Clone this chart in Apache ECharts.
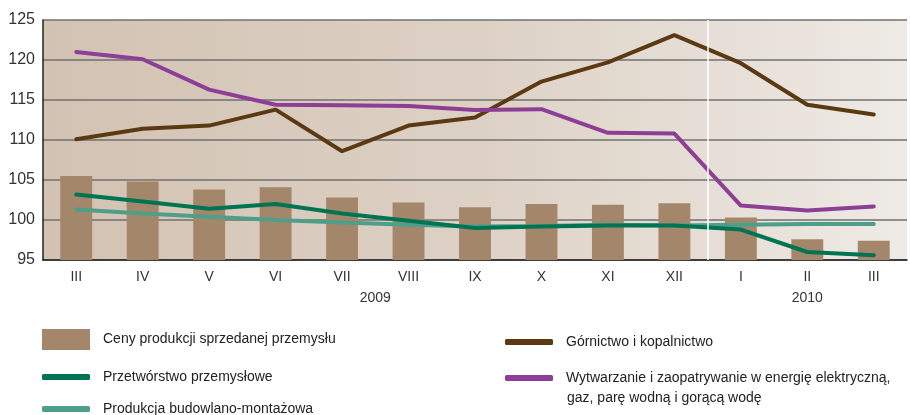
<!DOCTYPE html>
<html>
<head>
<meta charset="utf-8">
<script src="https://cdn.jsdelivr.net/npm/echarts@6/dist/echarts.min.js"></script>
<style>
  html, body { margin: 0; padding: 0; background: #fff; }
  #chart { width: 910px; height: 415px; }
</style>
</head>
<body>
<div id="chart"></div>
<script>
// miesiące (III 2009 – III 2010)
const months = ["III", "IV", "V", "VI", "VII", "VIII", "IX", "X", "XI", "XII", "I", "II", "III"];
// podpisy lat: pozycja na osi (indeks kategorii) i tekst
const yearPos = [4.5, 11];
const yearLabels = ["2009", "2010"];
// granica lat
const yearBreak = [9.5];

const names = [
  "Ceny produkcji sprzedanej przemysłu",
  "Przetwórstwo przemysłowe",
  "Produkcja budowlano-montażowa",
  "Górnictwo i kopalnictwo",
  "Wytwarzanie i zaopatrywanie w energię elektryczną,"
];
const nameLine2 = "gaz, parę wodną i gorącą wodę";

const ceny = [105.5, 104.8, 103.8, 104.1, 102.8, 102.2, 101.6, 102.0, 101.9, 102.1, 100.3, 97.6, 97.4];
const przetworstwo = [103.2, 102.3, 101.4, 102.0, 100.8, 99.9, 99.0, 99.2, 99.3, 99.3, 98.8, 96.0, 95.6];
const budowlana = [101.3, 100.8, 100.4, 100.0, 99.7, 99.4, 99.2, 99.25, 99.4, 99.3, 99.4, 99.5, 99.5];
const gornictwo = [110.1, 111.4, 111.8, 113.8, 108.6, 111.8, 112.8, 117.3, 119.7, 123.1, 119.6, 114.4, 113.2];
const energia = [121.0, 120.1, 116.3, 114.4, 114.35, 114.25, 113.75, 113.85, 110.9, 110.8, 101.8, 101.2, 101.7];

const font = "'Liberation Sans', sans-serif";
const colors = {
  bar: "#a4876a",
  przet: "#007353",
  bud: "#4d9f89",
  gorn: "#5b3912",
  energ: "#8d3f97"
};

const chart = echarts.init(document.getElementById("chart"));

function legendItem(name, left, top, icon, w, h) {
  return {
    left: left,
    top: top,
    padding: 0,
    orient: "horizontal",
    data: [name],
    icon: icon,
    itemWidth: w,
    itemHeight: h,
    selectedMode: false,
    textStyle: { fontFamily: font, fontSize: 14, color: "#222", padding: [0, 0, 0, 8] }
  };
}

chart.setOption({
  animation: false,
  grid: {
    left: 43,
    right: 0,
    top: 20,
    bottom: 155,
    show: true,
    borderWidth: 0,
    backgroundColor: new echarts.graphic.LinearGradient(0, 0, 1, 0, [
      { offset: 0, color: "#d2c2b2" },
      { offset: 0.5, color: "#ddd1c5" },
      { offset: 1, color: "#eeeae5" }
    ])
  },
  legend: [
    legendItem(names[0], 42, 329, "rect", 48, 21),
    legendItem(names[1], 42, 370, "roundRect", 48, 6),
    legendItem(names[2], 42, 402, "roundRect", 48, 6),
    legendItem(names[3], 505, 335, "roundRect", 48, 6),
    legendItem(names[4], 505, 371, "roundRect", 48, 6)
  ],
  graphic: [{
    type: "text",
    left: 567,
    top: 391,
    style: { text: nameLine2, font: "14px " + font, fill: "#222" }
  }],
  xAxis: [{
    type: "category",
    data: months,
    boundaryGap: true,
    axisLine: { lineStyle: { color: "#222", width: 1.5 } },
    axisTick: { inside: true, length: 6, lineStyle: { color: "#222" } },
    axisLabel: { fontFamily: font, fontSize: 14, color: "#333", margin: 10 }
  }, {
    type: "value",
    position: "bottom",
    min: -0.5,
    max: 12.5,
    interval: 0.5,
    axisLine: { show: false },
    axisTick: { show: false },
    splitLine: { show: false },
    axisLabel: {
      fontFamily: font, fontSize: 14, color: "#333", margin: 31,
      showMinLabel: true, showMaxLabel: true,
      formatter: function (v) {
        const i = yearPos.indexOf(v);
        return i >= 0 ? yearLabels[i] : "";
      }
    }
  }],
  yAxis: {
    type: "value",
    min: 95,
    max: 125,
    interval: 5,
    axisLine: { show: true, onZero: false, lineStyle: { color: "#222", width: 1.5 } },
    axisTick: { show: false },
    axisLabel: { fontFamily: font, fontSize: 16, color: "#333", margin: 8 },
    splitLine: { lineStyle: { color: "#707070", width: 1.5 } }
  },
  series: [
    {
      name: names[0], type: "bar", data: ceny, barWidth: "48%",
      itemStyle: { color: colors.bar }, z: 2
    },
    {
      name: names[2], type: "line", data: budowlana, symbol: "none",
      lineStyle: { color: colors.bud, width: 4, cap: "round" }, itemStyle: { color: colors.bud }, z: 3
    },
    {
      name: names[1], type: "line", data: przetworstwo, symbol: "none",
      lineStyle: { color: colors.przet, width: 4, cap: "round" }, itemStyle: { color: colors.przet }, z: 4
    },
    {
      name: names[3], type: "line", data: gornictwo, symbol: "none",
      lineStyle: { color: colors.gorn, width: 4, cap: "round" }, itemStyle: { color: colors.gorn }, z: 4
    },
    {
      name: names[4], type: "line", data: energia, symbol: "none",
      lineStyle: { color: colors.energ, width: 4, cap: "round" }, itemStyle: { color: colors.energ }, z: 4
    },
    {
      // biała linia oddzielająca lata
      type: "line", xAxisIndex: 1, data: [], silent: true,
      markLine: {
        symbol: "none", silent: true, label: { show: false },
        lineStyle: { color: "#ffffff", width: 1.5, type: "solid" },
        data: yearBreak.map(function (x) { return { xAxis: x }; })
      },
      z: 1
    }
  ]
});
</script>
</body>
</html>
